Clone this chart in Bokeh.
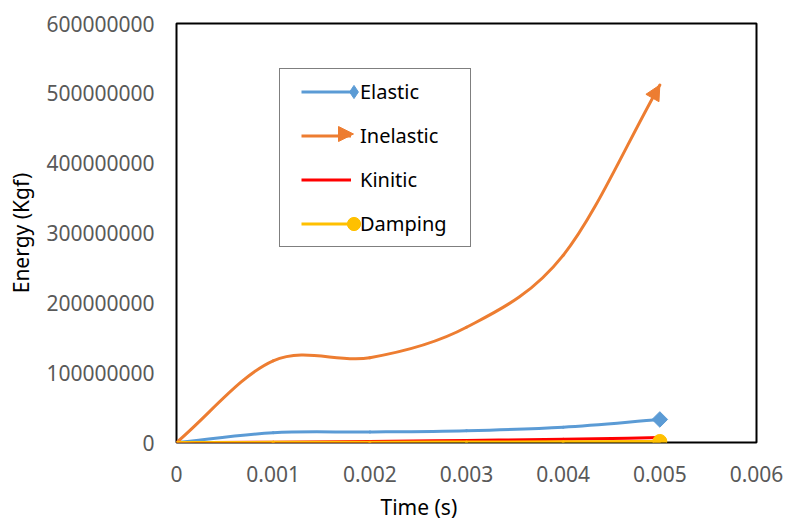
import numpy as np
from bokeh.plotting import figure
from bokeh.models import (Range1d, FixedTicker, NumeralTickFormatter, Legend, LegendItem,
                          Arrow, NormalHead, Title, ColumnDataSource)
from bokeh.embed import file_html
from bokeh.resources import INLINE

# ---- data ----
time_s = [0, 0.001, 0.002, 0.003, 0.004, 0.005]
elastic = [0, 14.0e6, 15.0e6, 17.0e6, 22.0e6, 33.0e6]
inelastic = [0, 117.0e6, 121.5e6, 165.0e6, 268.0e6, 512.0e6]
kinitic = [0, 0.5e6, 1.5e6, 3.0e6, 4.5e6, 7.0e6]
damping = [0, 0.2e6, 0.4e6, 0.7e6, 1.0e6, 1.5e6]
series_names = ["Elastic", "Inelastic", "Kinitic", "Damping"]

x_ticks = [0, 0.001, 0.002, 0.003, 0.004, 0.005, 0.006]
x_tick_labels = ["0", "0.001", "0.002", "0.003", "0.004", "0.005", "0.006"]
y_ticks = [0, 100000000, 200000000, 300000000, 400000000, 500000000, 600000000]
y_tick_labels = ["0", "100000000", "200000000", "300000000", "400000000", "500000000", "600000000"]
x_title = "Time (s)"
y_title = "Energy (Kgf)"

BLUE, ORANGE, RED, YELLOW = "#5B9BD5", "#ED7D31", "#FF0000", "#FFC000"
FONT = "Noto Sans"


def smooth_segments(x, y):
    """Excel-like smoothed line: cubic Bezier segments between data points."""
    x = np.asarray(x, float)
    y = np.asarray(y, float)
    n = len(x)
    dx = np.empty(n)
    dy = np.empty(n)
    dx[1:-1] = (x[2:] - x[:-2]) / 6.0
    dy[1:-1] = (y[2:] - y[:-2]) / 6.0
    dx[0] = (x[1] - x[0]) / 3.0
    dy[0] = (y[1] - y[0]) / 3.0
    dx[-1] = (x[-1] - x[-2]) / 3.0
    dy[-1] = (y[-1] - y[-2]) / 3.0
    return dict(x0=x[:-1], y0=y[:-1], x1=x[1:], y1=y[1:],
                cx0=x[:-1] + dx[:-1], cy0=y[:-1] + dy[:-1],
                cx1=x[1:] - dx[1:], cy1=y[1:] - dy[1:])


p = figure(width=786, height=526,
           x_range=Range1d(x_ticks[0], x_ticks[-1]),
           y_range=Range1d(y_ticks[0], y_ticks[-1]),
           output_backend="svg", toolbar_location=None,
           min_border_left=176, min_border_right=30,
           min_border_top=23, min_border_bottom=82)

p.grid.visible = False
p.outline_line_color = "black"
p.outline_line_width = 2
p.background_fill_color = "white"
p.border_fill_color = "white"

# axes
for ax in (p.xaxis[0], p.yaxis[0]):
    ax.axis_line_color = None
    ax.major_tick_line_color = None
    ax.minor_tick_line_color = None
    ax.major_tick_out = 0
    ax.major_tick_in = 0
    ax.major_label_text_font = FONT
    ax.major_label_text_font_size = "21px"
    ax.major_label_text_color = "#595959"

p.xaxis.ticker = FixedTicker(ticks=x_ticks)
p.xaxis.formatter = NumeralTickFormatter(format="0.[000]")
p.xaxis.major_label_overrides = {t: s for t, s in zip(x_ticks, x_tick_labels)}
p.xaxis.major_label_standoff = 23

p.yaxis.ticker = FixedTicker(ticks=y_ticks)
p.yaxis.formatter = NumeralTickFormatter(format="0")
p.yaxis.major_label_overrides = {t: s for t, s in zip(y_ticks, y_tick_labels)}
p.yaxis.major_label_standoff = 22
p.yaxis.axis_label = y_title
p.yaxis.axis_label_text_font = FONT
p.yaxis.axis_label_text_font_size = "21px"
p.yaxis.axis_label_text_font_style = "normal"
p.yaxis.axis_label_text_color = "black"
p.yaxis.axis_label_standoff = 8

# x axis title, placed left of centre as in the reference
p.add_layout(Title(text=x_title, align="left", offset=204, standoff=12,
                   text_font=FONT, text_font_size="21px", text_font_style="normal",
                   text_color="black"), "below")

# smoothed series
colors = [BLUE, ORANGE, RED, YELLOW]
values = [elastic, inelastic, kinitic, damping]
segs = []
for vals, col in zip(values, colors):
    seg = smooth_segments(time_s, vals)
    segs.append(seg)
    p.bezier(x0="x0", y0="y0", x1="x1", y1="y1", cx0="cx0", cy0="cy0", cx1="cx1", cy1="cy1",
             source=ColumnDataSource(seg), line_color=col, line_width=3, line_cap="round")

# end markers
p.scatter(x=[time_s[-1]], y=[elastic[-1]], marker="square", angle=np.pi / 4, size=11,
          fill_color=BLUE, line_color=BLUE)
p.scatter(x=[time_s[-1]], y=[damping[-1]], marker="circle", size=14,
          fill_color=YELLOW, line_color=YELLOW)

# arrow head at the end of the inelastic curve (head only, the curve is the body)
iseg = segs[1]
p.add_layout(Arrow(x_start=iseg["cx1"][-1], y_start=iseg["cy1"][-1],
                   x_end=time_s[-1], y_end=inelastic[-1],
                   line_color=ORANGE, line_alpha=0, line_width=3,
                   end=NormalHead(size=15, fill_color=ORANGE, line_color=ORANGE, line_width=1)))

# ---- legend: three stacked legends (box+labels, lines, end markers) ----
nan = [np.nan]
blank = p.line(x=nan, y=nan, line_alpha=0)
lg_lines = [p.line(x=nan, y=nan, line_color=c, line_width=3) for c in colors]
lg_el = p.scatter(x=nan, y=nan, marker="diamond", fill_color=BLUE, line_color=BLUE)
lg_da = p.scatter(x=nan, y=nan, marker="circle", fill_color=YELLOW, line_color=YELLOW)

common = dict(padding=6, spacing=11, margin=0, glyph_height=33, label_height=33,
              label_text_font=FONT, label_text_font_size="20px", label_text_color="black")

legend_box = Legend(items=[LegendItem(label=n, renderers=[blank]) for n in series_names],
                    location=(103, 195), border_line_color="black", border_line_width=1.5,
                    background_fill_color="white", background_fill_alpha=0,
                    glyph_width=64, label_width=104, label_standoff=10, **common)
legend_lines = Legend(items=[LegendItem(label="", renderers=[r]) for r in lg_lines],
                      location=(125, 202), border_line_color=None, background_fill_alpha=0,
                      glyph_width=50, label_width=0, label_standoff=0, **common)
legend_marks = Legend(items=[LegendItem(label="", renderers=[lg_el]),
                             LegendItem(label="", renderers=[blank]),
                             LegendItem(label="", renderers=[blank]),
                             LegendItem(label="", renderers=[lg_da])],
                      location=(161, 202), border_line_color=None, background_fill_alpha=0,
                      glyph_width=33, label_width=0, label_standoff=0, **common)
for lg in (legend_box, legend_lines, legend_marks):
    p.add_layout(lg, "center")

# arrow head of the Inelastic legend entry (screen units inside the plot frame)
p.add_layout(Arrow(x_start=160, y_start=308.5, x_end=177, y_end=308.5,
                   start_units="screen", end_units="screen", level="overlay",
                   line_color=ORANGE, line_alpha=0, line_width=3,
                   end=NormalHead(size=15, fill_color=ORANGE, line_color=ORANGE, line_width=1)))

open("out.html", "w").write(file_html(p, INLINE))
